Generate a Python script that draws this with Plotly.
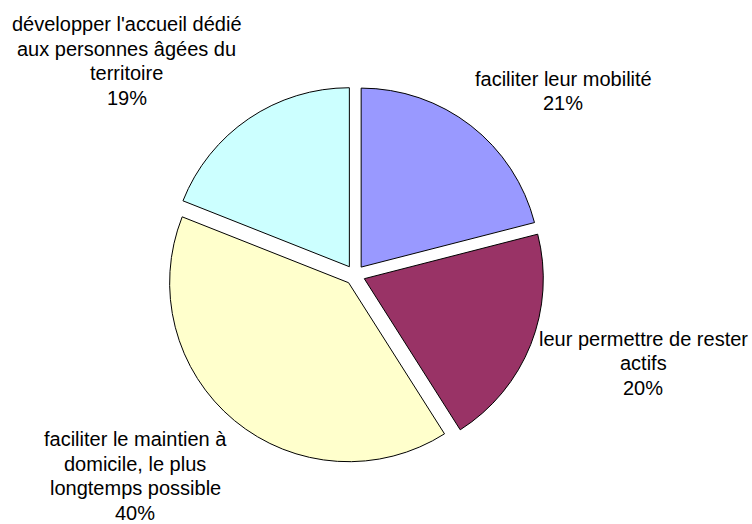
import plotly.graph_objects as go

labels = ["faciliter leur mobilité",
          "leur permettre de rester actifs",
          "faciliter le maintien à domicile, le plus longtemps possible",
          "développer l'accueil dédié aux personnes âgées du territoire"]
label_lines = [["faciliter leur mobilité"],
               ["leur permettre de rester", "actifs"],
               ["faciliter le maintien à", "domicile, le plus", "longtemps possible"],
               ["développer l'accueil dédié", "aux personnes âgées du", "territoire"]]
values = [21, 20, 40, 19]
colors = ["#9999FF", "#993366", "#FFFFCC", "#CCFFFF"]

W, H = 752, 524
LINE = 24.5
# label anchor positions in pixels (center of text block)
label_pos = [(563, 91), (643, 363), (135, 476), (127, 61)]

fig = go.Figure()
fig.add_trace(go.Pie(
    labels=labels, values=values, sort=False, direction="clockwise", rotation=0,
    marker=dict(colors=colors, line=dict(color="black", width=1)),
    pull=[0.056] * len(values), textinfo="none", hoverinfo="label+percent",
    showlegend=False,
    domain=dict(x=[166 / W, 544 / W], y=[1 - 464 / H, 1 - 86 / H]),
))

total = sum(values)
for lines, v, (px, py) in zip(label_lines, values, label_pos):
    all_lines = lines + [f"{round(100 * v / total)}%"]
    n = len(all_lines)
    for i, line in enumerate(all_lines):
        ly = py + (i - (n - 1) / 2) * LINE
        fig.add_annotation(
            x=px / W, y=1 - ly / H, xref="paper", yref="paper",
            text=line, showarrow=False, borderpad=0,
            xanchor="center", yanchor="middle", align="center",
            font=dict(family="Liberation Sans, Arial, sans-serif", size=20, color="black"),
        )

fig.update_layout(width=W, height=H, margin=dict(l=0, r=0, t=0, b=0),
                  paper_bgcolor="white", plot_bgcolor="white")
fig.write_html("out.html", post_script="document.body.style.margin='0';",
               config={"displayModeBar": False})
